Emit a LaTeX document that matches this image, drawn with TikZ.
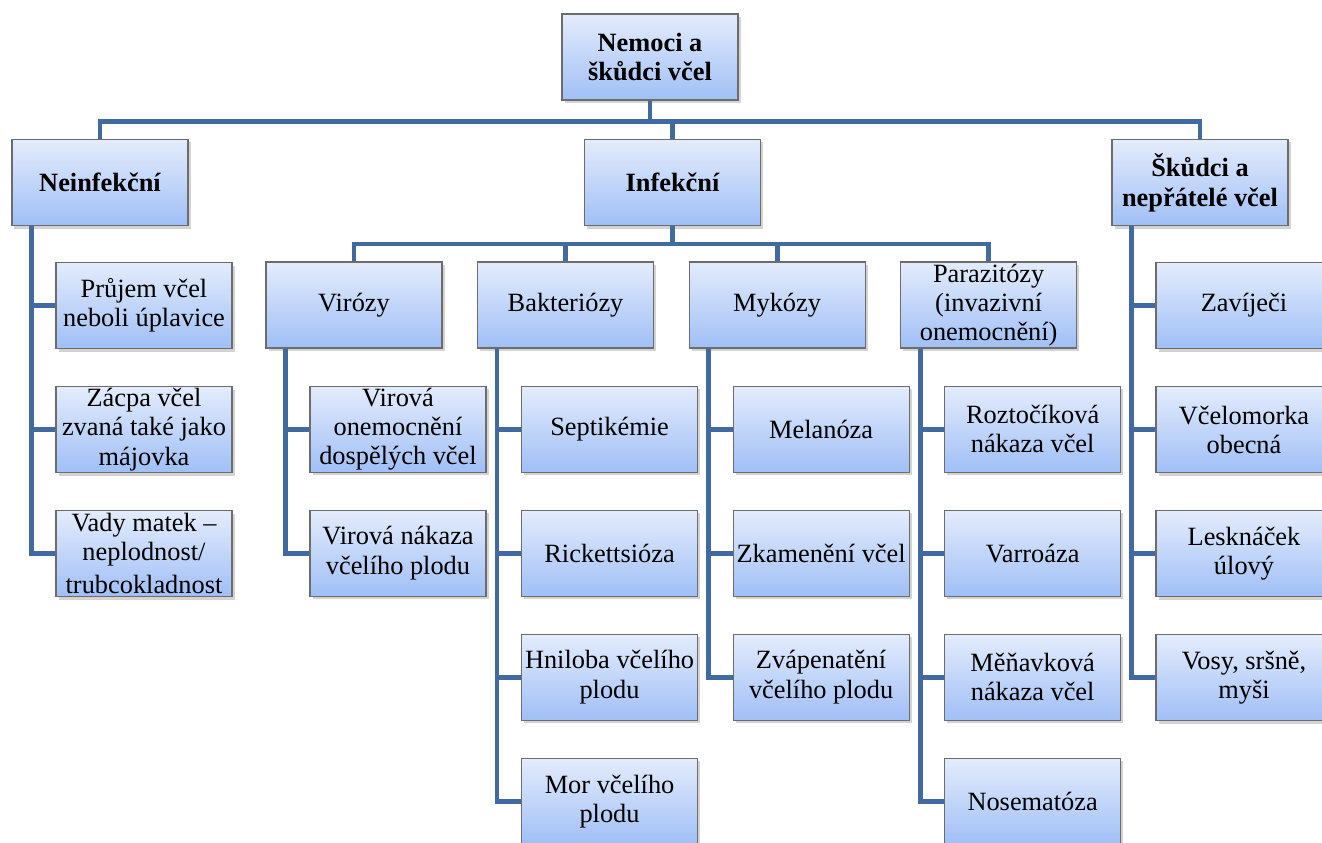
\documentclass[tikz,border=0pt]{standalone}
\usepackage{fontspec}
\setmainfont{Liberation Serif}
\newfontfamily\vcelfont{Liberation Serif}
\usetikzlibrary{positioning,shadows}
\definecolor{linkblue}{RGB}{66,106,160}
\definecolor{boxtop}{RGB}{228,236,252}
\definecolor{boxbottom}{RGB}{160,191,246}
\tikzstyle{VcelBox}=[rectangle, draw=gray!85!black, line width=0.6pt, top color=boxtop, bottom color=boxbottom, minimum width=3.52cm, minimum height=1.72cm, inner sep=0pt, align=center, font=\vcelfont\fontsize{15}{16.6}\selectfont, drop shadow={shadow xshift=0.5mm, shadow yshift=-0.6mm, opacity=0.35}]
\tikzstyle{HeadBox}=[VcelBox, font=\vcelfont\fontsize{15}{17}\selectfont\bfseries]
\tikzstyle{Link}=[draw=linkblue, line width=2.8pt]

\begin{document}
\begin{tikzpicture}
			\useasboundingbox (0,0) rectangle (26.44,-16.86);
			%Nodos
			\node[HeadBox]	(koren)	at (13.0,-1.14)		{Nemoci a\\škůdci včel};
			\node[HeadBox]	(neinf)	at (2.0,-3.65)		{Neinfekční};
			\node[HeadBox]	(infek)	at (13.45,-3.65)	{Infekční};
			\node[HeadBox]	(skudci)	at (24.0,-3.65)		{Škůdci a\\nepřátelé včel};

			\node[VcelBox]	(viro)	at (7.08,-6.1)			{Virózy};
			\node[VcelBox]	(bakt)	[right=0.69cm of viro]	{Bakteriózy};
			\node[VcelBox]	(myko)	[right=0.69cm of bakt]	{Mykózy};
			\node[VcelBox]	(para)	[right=0.69cm of myko]	{Parazitózy\\(invazivní\\onemocnění)};

			\node[VcelBox]	(pruj)	[below right=0.72cm and 0.88cm of neinf.south west]	{Průjem včel\\neboli úplavice};
			\node[VcelBox]	(zacp)	[below=0.74cm of pruj]	{Zácpa včel\\zvaná také jako\\májovka};
			\node[VcelBox]	(vady)	[below=0.74cm of zacp]	{Vady matek –\\neplodnost/\\[2pt]trubcokladnost};

			\node[VcelBox]	(virdosp)	[below right=0.74cm and 0.88cm of viro.south west]	{Virová\\onemocnění\\dospělých včel};
			\node[VcelBox]	(virplod)	[below=0.74cm of virdosp]	{Virová nákaza\\včelího plodu};

			\node[VcelBox]	(sept)	[below right=0.74cm and 0.88cm of bakt.south west]	{Septikémie};
			\node[VcelBox]	(rick)	[below=0.74cm of sept]	{Rickettsióza};
			\node[VcelBox]	(hnil)	[below=0.74cm of rick]	{Hniloba včelího\\plodu};
			\node[VcelBox]	(mor)	[below=0.74cm of hnil]	{Mor včelího\\plodu};

			\node[VcelBox]	(mela)	[below right=0.74cm and 0.88cm of myko.south west]	{Melanóza};
			\node[VcelBox]	(zkam)	[below=0.74cm of mela]	{Zkamenění včel};
			\node[VcelBox]	(zvap)	[below=0.74cm of zkam]	{Zvápenatění\\včelího plodu};

			\node[VcelBox]	(rozt)	[below right=0.74cm and 0.88cm of para.south west]	{Roztočíková\\nákaza včel};
			\node[VcelBox]	(varr)	[below=0.74cm of rozt]	{Varroáza};
			\node[VcelBox]	(mena)	[below=0.74cm of varr]	{Měňavková\\nákaza včel};
			\node[VcelBox]	(nose)	[below=0.74cm of mena]	{Nosematóza};

			\node[VcelBox]	(zavi)	[below right=0.72cm and 0.88cm of skudci.south west]	{Zavíječi};
			\node[VcelBox]	(vcel)	[below=0.74cm of zavi]	{Včelomorka\\obecná};
			\node[VcelBox]	(lesk)	[below=0.74cm of vcel]	{Lesknáček\\úlový};
			\node[VcelBox]	(vosy)	[below=0.74cm of lesk]	{Vosy, sršně,\\myši};

			%Lineas
			\draw[Link] (koren.south) -- ++(0,-0.42) coordinate (bar1);
			\draw[Link] (bar1) -| (neinf.north);
			\draw[Link] (bar1) -| (infek.north);
			\draw[Link] (bar1) -| (skudci.north);

			\draw[Link] (infek.south) -- ++(0,-0.36) coordinate (bar2);
			\draw[Link] (bar2) -| (viro.north);
			\draw[Link] (bar2) -| (bakt.north);
			\draw[Link] (bar2) -| (myko.north);
			\draw[Link] (bar2) -| (para.north);

			\foreach \rodic/\deti in {neinf/{pruj,zacp,vady}, viro/{virdosp,virplod}, bakt/{sept,rick,hnil,mor}, myko/{mela,zkam,zvap}, para/{rozt,varr,mena,nose}, skudci/{zavi,vcel,lesk,vosy}}
				\foreach \dite in \deti
					\draw[Link] ([xshift=0.4cm]\rodic.south west) |- (\dite.west);

		\end{tikzpicture}
\end{document}
